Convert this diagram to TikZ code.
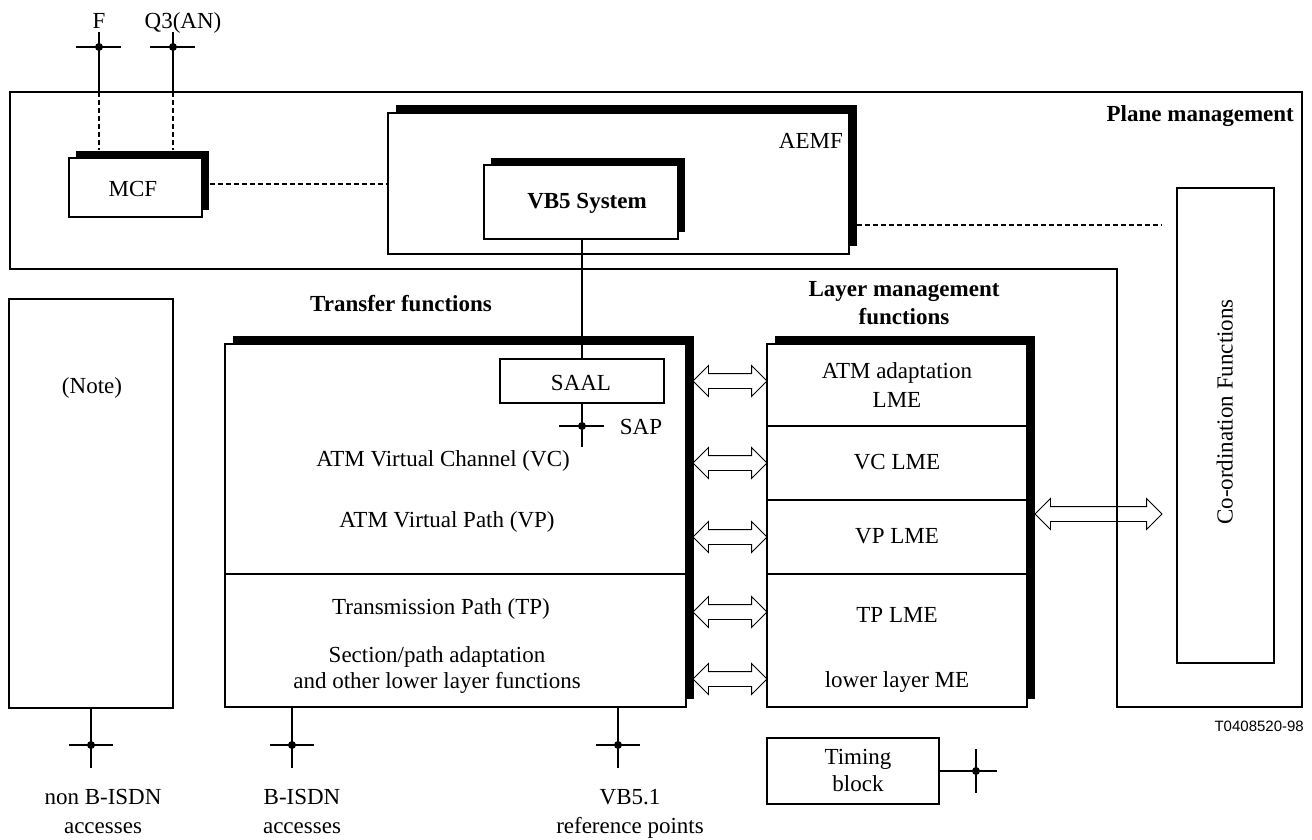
\documentclass[tikz,border=0pt]{standalone}
\usepackage{fontspec}
\setmainfont{Liberation Serif}
\newfontfamily\arialf{Liberation Sans}
\usetikzlibrary{shapes.arrows,shadows}
\begin{document}
\begin{tikzpicture}[x=1pt,y=-1pt,
  txt/.style={inner sep=0pt, font=\fontsize{23}{27}\selectfont, text height=15pt, text depth=0pt},
  btxt/.style={inner sep=0pt, font=\fontsize{23}{27}\selectfont\bfseries, text height=15pt, text depth=0pt},
  box/.style={draw, line width=1.2pt, fill=white, inner sep=0pt},
  sbox/.style={box, drop shadow={shadow xshift=8pt, shadow yshift=8pt, opacity=1, fill=black}},
  sboxs/.style={box, drop shadow={shadow xshift=7pt, shadow yshift=7pt, opacity=1, fill=black}},
  thinl/.style={line width=1.2pt},
  xl/.style={line width=2pt},
  dsh/.style={line width=1.8pt, dash pattern=on 5pt off 3pt},
  dblarr/.style={double arrow, draw, line width=0.9pt, inner xsep=0pt, inner ysep=7pt,
     minimum width=1pt, double arrow head extend=8pt, double arrow tip angle=90},
  dotf/.style={fill=black}
]
\useasboundingbox (0,0) rectangle (1312,839);

% plane management outline
\draw[thinl] (10,92) -- (1302,92) -- (1302,707) -- (1117,707) -- (1117,269) -- (10,269) -- cycle;
\node[btxt, anchor=east] (plane) at (1294,114) {Plane management};

% MCF, AEMF, VB5
\node[sboxs, minimum width=133pt, minimum height=59pt] (mcf) at (135.5,187.5) {};
\node[txt] (mcft) at (133,189) {MCF};
\node[sbox, minimum width=461pt, minimum height=141pt] (aemf) at (618.5,183.5) {};
\node[txt, anchor=east] (aemft) at (843,141) {AEMF};
\node[sboxs, minimum width=194pt, minimum height=74pt] (vb5) at (581,202) {};
\node[btxt] (vb5t) at (587,201) {VB5 System};

% F and Q3(AN)
\coordinate (Ftop) at (99,32);
\coordinate (Fx) at (99,47);
\coordinate (Fp) at (99,92);
\coordinate (Fm) at (99,150);
\coordinate (Qtop) at (173,32);
\coordinate (Qx) at (173,47);
\coordinate (Qp) at (173,92);
\coordinate (Qm) at (173,150);
\node[txt] (Ft) at (99,21) {F};
\node[txt] (Qt) at (183,21) {Q3(AN)};
\draw[xl] (Ftop) -- (Fp);
\draw[xl] ([xshift=-23pt]Fx) -- ([xshift=22pt]Fx);
\fill (Fx) circle (4pt);
\draw[xl] (Qtop) -- (Qp);
\draw[xl] ([xshift=-23pt]Qx) -- ([xshift=22pt]Qx);
\fill (Qx) circle (4pt);
\draw[dsh] (Fp) -- (Fm);
\draw[dsh] (Qp) -- (Qm);

% dashed links
\coordinate (mcfr) at (210,184);
\draw[dsh] (mcfr) -- (mcfr -| aemf.west);
\coordinate (aemfr) at (857,225);
\coordinate (dashend) at (1162,225);
\draw[dsh] (aemfr) -- (dashend);

% coordination functions
\node[box, minimum width=97pt, minimum height=475pt] (coord) at (1225.5,425.5) {};
\node[txt, rotate=90] (coordt) at (1225,412) {Co-ordination Functions};

% Note box
\node[box, minimum width=164pt, minimum height=409pt] (note) at (91,503.5) {};
\node[txt] (notet) at (92,386) {(Note)};

% Transfer functions
\node[btxt] (tft) at (401,304) {Transfer functions};
\node[sbox, minimum width=461pt, minimum height=363pt] (tf) at (455.5,525.5) {};
\draw[xl] (225,574) -- (686,574);
\node[box, minimum width=164pt, minimum height=44pt] (saal) at (582,381) {};
\node[txt] (saalt) at (581,383) {SAAL};
\draw[thinl] (vb5.south -| saal.north) -- (saal.north);
\coordinate (sapx) at (582,426);
\coordinate (sapb) at (582,447);
\draw[xl] (saal.south) -- (sapb);
\draw[xl] ([xshift=-23pt]sapx) -- ([xshift=22pt]sapx);
\fill (sapx) circle (4pt);
\node[txt] (sapt) at (641,427) {SAP};
\node[txt] (vc) at (443,459) {ATM Virtual Channel (VC)};
\node[txt] (vp) at (447,520) {ATM Virtual Path (VP)};
\node[txt] (tp) at (441,607) {Transmission Path (TP)};
\node[txt] (sec) at (437,655) {Section/path adaptation};
\node[txt] (oth) at (437,681) {and other lower layer functions};

% Layer management
\node[btxt] (lmt1) at (904,289) {Layer management};
\node[btxt] (lmt2) at (904,317) {functions};
\node[sbox, minimum width=260pt, minimum height=363pt] (lm) at (897,525.5) {};
\draw[xl] (767,426) -- (1027,426);
\draw[xl] (767,500) -- (1027,500);
\draw[xl] (767,574) -- (1027,574);
\node[txt] (l1) at (897,371) {ATM adaptation};
\node[txt] (l1b) at (897,400) {LME};
\node[txt] (l2) at (897,462) {VC LME};
\node[txt] (l3) at (897,536) {VP LME};
\node[txt] (l4) at (897,615) {TP LME};
\node[txt] (l5) at (897,680) {lower layer ME};

% double arrows
\node[dblarr, minimum height=74pt] (a1) at (730,381) {};
\node[dblarr, minimum height=74pt] (a2) at (730,463) {};
\node[dblarr, minimum height=74pt] (a3) at (730,537) {};
\node[dblarr, minimum height=74pt] (a4) at (730,612) {};
\node[dblarr, minimum height=74pt] (a5) at (730,679) {};
\node[dblarr, minimum height=127pt] (a6) at (1098.5,514) {};

% bottom access points
\coordinate (n1) at (91,768);   \coordinate (n1x) at (91,745);
\coordinate (b1) at (292,768);  \coordinate (b1x) at (292,745);
\coordinate (v1) at (618,768);  \coordinate (v1x) at (618,745);
\draw[xl] (note.south -| n1) -- (n1);
\draw[xl] ([xshift=-22pt]n1x) -- ([xshift=22pt]n1x);
\fill (n1x) circle (4pt);
\draw[xl] (tf.south -| b1) -- (b1);
\draw[xl] ([xshift=-22pt]b1x) -- ([xshift=22pt]b1x);
\fill (b1x) circle (4pt);
\draw[xl] (tf.south -| v1) -- (v1);
\draw[xl] ([xshift=-22pt]v1x) -- ([xshift=22pt]v1x);
\fill (v1x) circle (4pt);
\node[txt] (nb1) at (103,797) {non B-ISDN};
\node[txt] (nb2) at (103,826) {accesses};
\node[txt] (bb1) at (302,797) {B-ISDN};
\node[txt] (bb2) at (302,826) {accesses};
\node[txt] (vb1) at (630,797) {VB5.1};
\node[txt] (vb2) at (630,826) {reference points};

% timing block
\node[box, minimum width=172pt, minimum height=66pt] (tim) at (853,771) {};
\node[txt] (timt1) at (858,757) {Timing};
\node[txt] (timt2) at (858,784) {block};
\coordinate (tx) at (976,771);
\coordinate (te) at (997,771);
\draw[xl] (tim.east) -- (te);
\draw[xl] ([yshift=22pt]tx) -- ([yshift=-22pt]tx);
\fill (tx) circle (4pt);

% figure id
\node[inner sep=0pt, anchor=east, font=\arialf\fontsize{15}{18}\selectfont] (fid) at (1304,726) {T0408520-98};
\end{tikzpicture}
\end{document}
